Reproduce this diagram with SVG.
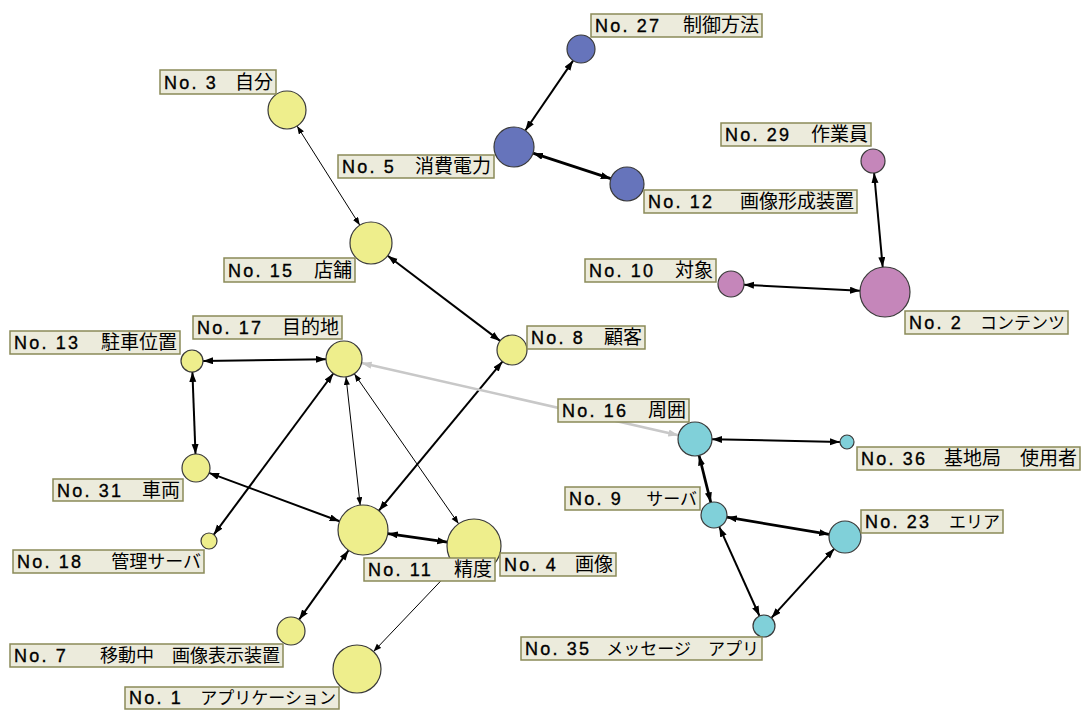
<svg xmlns="http://www.w3.org/2000/svg" width="1081" height="711" viewBox="0 0 1081 711">
<defs>
<marker id="a" markerUnits="userSpaceOnUse" markerWidth="11" markerHeight="8" refX="10" refY="3.5" orient="auto-start-reverse"><path d="M0,0 L10,3.5 L0,7 z" fill="#000"/></marker>
<marker id="as" markerUnits="userSpaceOnUse" markerWidth="9" markerHeight="7" refX="8" refY="3" orient="auto-start-reverse"><path d="M0,0 L8,3 L0,6 z" fill="#000"/></marker>
<marker id="ag" markerUnits="userSpaceOnUse" markerWidth="11" markerHeight="8" refX="10" refY="3.5" orient="auto-start-reverse"><path d="M0,0 L10,3.5 L0,7 z" fill="#c8c8c8"/></marker>
</defs>
<style>
.e{stroke:#000;fill:none;stroke-width:2;marker-start:url(#a);marker-end:url(#a)}
.w{stroke-width:2.8}
.t{stroke-width:1;marker-start:url(#as);marker-end:url(#as)}
.g{stroke:#c8c8c8;stroke-width:2.5;marker-start:url(#ag);marker-end:url(#ag)}
circle{stroke:#3a3a3a;stroke-width:1.2}
.y{fill:#eeee8c}.b{fill:#6674bb}.p{fill:#c586ba}.c{fill:#80d0d9}
rect{fill:#ecebdc;stroke:#8a8a58;stroke-width:1.5}
text{font-family:"Liberation Sans","Noto Sans CJK JP",sans-serif;font-size:18px;fill:#000}
.l{letter-spacing:2.2px;stroke:#000;stroke-width:0.35}
.j{font-family:"Noto Sans CJK JP",sans-serif;font-size:19px;text-anchor:end}
.k{font-size:17px}
.m{font-size:18px}
</style>
<g id="connectors">
<line class="e" x1="573.1" y1="60.6" x2="525.3" y2="130.5"/>
<line class="e w" x1="533" y1="153.2" x2="610.8" y2="178.7"/>
<line class="e" x1="874.1" y1="173" x2="882.7" y2="267.1"/>
<line class="e" x1="744" y1="284.7" x2="860" y2="290.7"/>
<line class="e t" x1="297.1" y1="126.1" x2="359.8" y2="225.2"/>
<line class="e" x1="387.7" y1="255.7" x2="500.1" y2="340.9"/>
<line class="e" x1="203" y1="360.9" x2="326" y2="359.2"/>
<line class="e" x1="192.4" y1="372" x2="195.5" y2="454"/>
<line class="e" x1="333.3" y1="373.5" x2="213.8" y2="534.6"/>
<line class="e t" x1="346" y1="376.9" x2="360.2" y2="505.2"/>
<line class="e t" x1="354.3" y1="373.8" x2="458.6" y2="523.8"/>
<line class="e" x1="502.4" y1="361.6" x2="378.9" y2="510.7"/>
<line class="e" x1="209.1" y1="472.9" x2="339.6" y2="521.3"/>
<line class="e w" x1="387.8" y1="533.6" x2="447.3" y2="542.1"/>
<line class="e" x1="348.5" y1="550.4" x2="299.1" y2="619.6"/>
<line class="e t" style="marker-start:none" x1="455.4" y1="565.6" x2="373.5" y2="651.6"/>
<line class="e g" x1="678.4" y1="435.2" x2="361.6" y2="363"/>
<line class="e" x1="712" y1="439.3" x2="840" y2="441.9"/>
<line class="e w" x1="699.1" y1="455.5" x2="710.8" y2="502.4"/>
<line class="e w" x1="726.8" y1="517.2" x2="829.2" y2="534.3"/>
<line class="e" x1="719.3" y1="526.9" x2="759.5" y2="616"/>
<line class="e" x1="834.2" y1="548.8" x2="771.4" y2="617.9"/>
</g>
<g id="n27"><circle class="b" cx="581" cy="49" r="14"/><rect x="591" y="14" width="171" height="23"/><text y="32"><tspan class="l" x="595">No. 27</tspan><tspan class="j" x="759">制御方法</tspan></text></g>
<g id="n5"><circle class="b" cx="514" cy="147" r="20"/><rect x="338" y="155" width="156" height="23"/><text y="173"><tspan class="l" x="342">No. 5</tspan><tspan class="j" x="491">消費電力</tspan></text></g>
<g id="n12"><circle class="b" cx="627" cy="184" r="17"/><rect x="644" y="190" width="213" height="23"/><text y="208"><tspan class="l" x="648">No. 12</tspan><tspan class="j" x="854">画像形成装置</tspan></text></g>
<g id="n29"><circle class="p" cx="873" cy="161" r="12"/><rect x="721" y="123" width="150" height="23"/><text y="141"><tspan class="l" x="725">No. 29</tspan><tspan class="j" x="868">作業員</tspan></text></g>
<g id="n2"><circle class="p" cx="885" cy="292" r="25"/><rect x="905" y="311" width="163" height="23"/><text y="329"><tspan class="l" x="909">No. 2</tspan><tspan class="j k" x="1065">コンテンツ</tspan></text></g>
<g id="n10"><circle class="p" cx="731" cy="284" r="13"/><rect x="585" y="259" width="131" height="23"/><text y="277"><tspan class="l" x="589">No. 10</tspan><tspan class="j" x="713">対象</tspan></text></g>
<g id="n3"><circle class="y" cx="287" cy="110" r="19"/><rect x="160" y="70" width="116" height="24"/><text y="89"><tspan class="l" x="164">No. 3</tspan><tspan class="j" x="273">自分</tspan></text></g>
<g id="n15"><circle class="y" cx="371" cy="243" r="21"/><rect x="224" y="258" width="131" height="24"/><text y="277"><tspan class="l" x="228">No. 15</tspan><tspan class="j" x="352">店舗</tspan></text></g>
<g id="n8"><circle class="y" cx="512" cy="350" r="15"/><rect x="527" y="326" width="118" height="23"/><text y="344"><tspan class="l" x="531">No. 8</tspan><tspan class="j" x="642">顧客</tspan></text></g>
<g id="n17"><circle class="y" cx="344" cy="359" r="18"/><rect x="193" y="316" width="149" height="23"/><text y="334"><tspan class="l" x="197">No. 17</tspan><tspan class="j" x="339">目的地</tspan></text></g>
<g id="n13"><circle class="y" cx="192" cy="361" r="11"/><rect x="10" y="331" width="170" height="23"/><text y="349"><tspan class="l" x="14">No. 13</tspan><tspan class="j" x="177">駐車位置</tspan></text></g>
<g id="n31"><circle class="y" cx="196" cy="468" r="14"/><rect x="53" y="479" width="130" height="22"/><text y="497"><tspan class="l" x="57">No. 31</tspan><tspan class="j" x="180">車両</tspan></text></g>
<g id="n18"><circle class="y" cx="209" cy="541" r="8"/><rect x="13" y="550" width="191" height="23"/><text y="568"><tspan class="l" x="17">No. 18</tspan><tspan class="j m" x="201">管理サーバ</tspan></text></g>
<g id="n4"><circle class="y" cx="474" cy="546" r="27"/><rect x="500" y="553" width="116" height="23"/><text y="571"><tspan class="l" x="504">No. 4</tspan><tspan class="j" x="613">画像</tspan></text></g>
<g id="n11"><circle class="y" cx="363" cy="530" r="25"/><rect x="364" y="558" width="131" height="23"/><text y="576"><tspan class="l" x="368">No. 11</tspan><tspan class="j" x="492">精度</tspan></text></g>
<g id="n7"><circle class="y" cx="291" cy="631" r="14"/><rect x="10" y="644" width="273" height="23"/><text y="662"><tspan class="l" x="14">No. 7</tspan><tspan class="j m" x="280">移動中　画像表示装置</tspan></text></g>
<g id="n1"><circle class="y" cx="357" cy="669" r="24"/><rect x="125" y="687" width="214" height="22"/><text y="704"><tspan class="l" x="129">No. 1</tspan><tspan class="j k" x="336">アプリケーション</tspan></text></g>
<g id="n16"><circle class="c" cx="695" cy="439" r="17"/><rect x="558" y="399" width="131" height="23"/><text y="417"><tspan class="l" x="562">No. 16</tspan><tspan class="j" x="686">周囲</tspan></text></g>
<g id="n36"><circle class="c" cx="847" cy="442" r="7"/><rect x="857" y="447" width="223" height="23"/><text y="465"><tspan class="l" x="861">No. 36</tspan><tspan class="j" x="1077">基地局　使用者</tspan></text></g>
<g id="n9"><circle class="c" cx="714" cy="515" r="13"/><rect x="565" y="487" width="135" height="23"/><text y="505"><tspan class="l" x="569">No. 9</tspan><tspan class="j k" x="697">サーバ</tspan></text></g>
<g id="n23"><circle class="c" cx="845" cy="537" r="16"/><rect x="861" y="510" width="142" height="23"/><text y="528"><tspan class="l" x="865">No. 23</tspan><tspan class="j k" x="1000">エリア</tspan></text></g>
<g id="n35"><circle class="c" cx="764" cy="626" r="11"/><rect x="521" y="637" width="241" height="23"/><text y="655"><tspan class="l" x="525">No. 35</tspan><tspan class="j k" x="759">メッセージ　アプリ</tspan></text></g>
</svg>
